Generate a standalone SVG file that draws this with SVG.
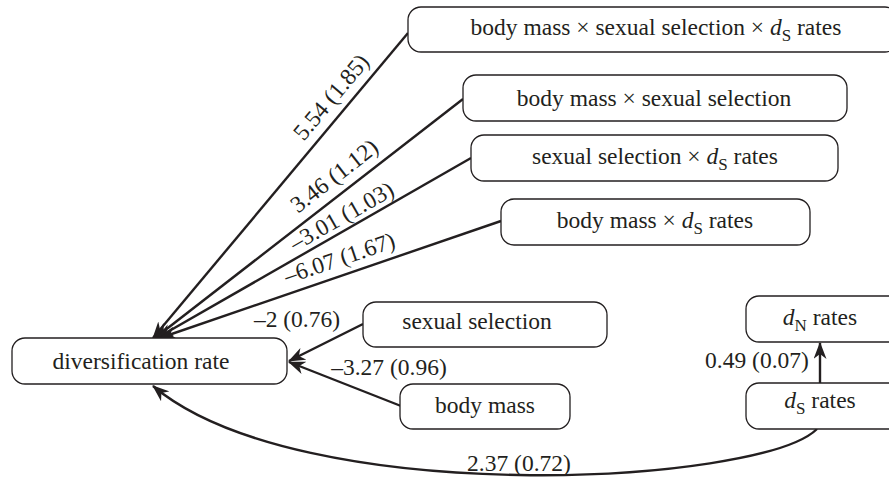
<svg xmlns="http://www.w3.org/2000/svg" width="889" height="481" viewBox="0 0 889 481">
<defs>
<style>
.box{fill:#fff;stroke:#231f20;stroke-width:1.3}
.t{font-family:'Liberation Serif','DejaVu Serif',serif;font-size:23.5px;fill:#231f20;text-anchor:middle}
.sub{font-size:17px}
.it{font-style:italic}
.e{fill:none;stroke:#231f20;stroke-width:2.4}
</style>
<marker id="ah" viewBox="0 0 17 13" refX="16" refY="6.5" markerWidth="17" markerHeight="13" markerUnits="userSpaceOnUse" orient="auto">
<path d="M0,0 L17,6.5 L0,13 L5,6.5 z" fill="#231f20"/>
</marker>
</defs>
<rect width="889" height="481" fill="#fff"/>

<g id="connectors">
<line class="e" x1="408" y1="33" x2="153" y2="338" marker-end="url(#ah)"/>
<line class="e" x1="463" y1="99" x2="155" y2="338" marker-end="url(#ah)"/>
<line class="e" x1="471" y1="158" x2="157" y2="338" marker-end="url(#ah)"/>
<line class="e" x1="501" y1="221" x2="160" y2="338" marker-end="url(#ah)"/>
<line class="e" x1="363" y1="324" x2="289" y2="361" marker-end="url(#ah)"/>
<line class="e" x1="401" y1="406" x2="289" y2="362" marker-end="url(#ah)"/>
<line class="e" x1="820" y1="383" x2="820" y2="343" marker-end="url(#ah)"/>
<path class="e" d="M817,429 C760,485 300,510 153,386" marker-end="url(#ah)"/>
<text class="t" transform="translate(337,102) rotate(-50)">5.54 (1.85)</text>
<text class="t" transform="translate(339,182) rotate(-37.8)">3.46 (1.12)</text>
<text class="t" transform="translate(345.5,223) rotate(-29.7)">–3.01 (1.03)</text>
<text class="t" transform="translate(342,265.6) rotate(-18.7)">–6.07 (1.67)</text>
<text class="t" x="297" y="327">–2 (0.76)</text>
<text class="t" x="389" y="375">–3.27 (0.96)</text>
<text class="t" x="757" y="368">0.49 (0.07)</text>
<text class="t" x="519" y="471">2.37 (0.72)</text>
</g>

<g id="n-bm-ss-ds">
<rect class="box" x="408" y="7" width="490" height="45" rx="13"/>
<text class="t" x="656" y="35">body mass × sexual selection × <tspan class="it">d</tspan><tspan class="sub" dy="6">S</tspan><tspan dy="-6"> rates</tspan></text>
</g>
<g id="n-bm-ss">
<rect class="box" x="463" y="75" width="384" height="46" rx="13"/>
<text class="t" x="654" y="106">body mass × sexual selection</text>
</g>
<g id="n-ss-ds">
<rect class="box" x="471" y="135" width="367" height="46" rx="13"/>
<text class="t" x="655" y="164">sexual selection × <tspan class="it">d</tspan><tspan class="sub" dy="6">S</tspan><tspan dy="-6"> rates</tspan></text>
</g>
<g id="n-bm-ds">
<rect class="box" x="501" y="199" width="309" height="46" rx="13"/>
<text class="t" x="655" y="228">body mass × <tspan class="it">d</tspan><tspan class="sub" dy="6">S</tspan><tspan dy="-6"> rates</tspan></text>
</g>
<g id="n-ss">
<rect class="box" x="363" y="302" width="244" height="45" rx="13"/>
<text class="t" x="477" y="329">sexual selection</text>
</g>
<g id="n-bm">
<rect class="box" x="400" y="384" width="170" height="45" rx="13"/>
<text class="t" x="485" y="413">body mass</text>
</g>
<g id="n-div">
<rect class="box" x="12" y="338" width="275" height="46" rx="13"/>
<text class="t" x="141" y="369">diversification rate</text>
</g>
<g id="n-dn">
<rect class="box" x="746" y="296" width="160" height="46" rx="13"/>
<text class="t" x="820" y="325"><tspan class="it">d</tspan><tspan class="sub" dy="6">N</tspan><tspan dy="-6"> rates</tspan></text>
</g>
<g id="n-ds">
<rect class="box" x="746" y="383" width="160" height="46" rx="13"/>
<text class="t" x="820" y="408"><tspan class="it">d</tspan><tspan class="sub" dy="6">S</tspan><tspan dy="-6"> rates</tspan></text>
</g>
</svg>
